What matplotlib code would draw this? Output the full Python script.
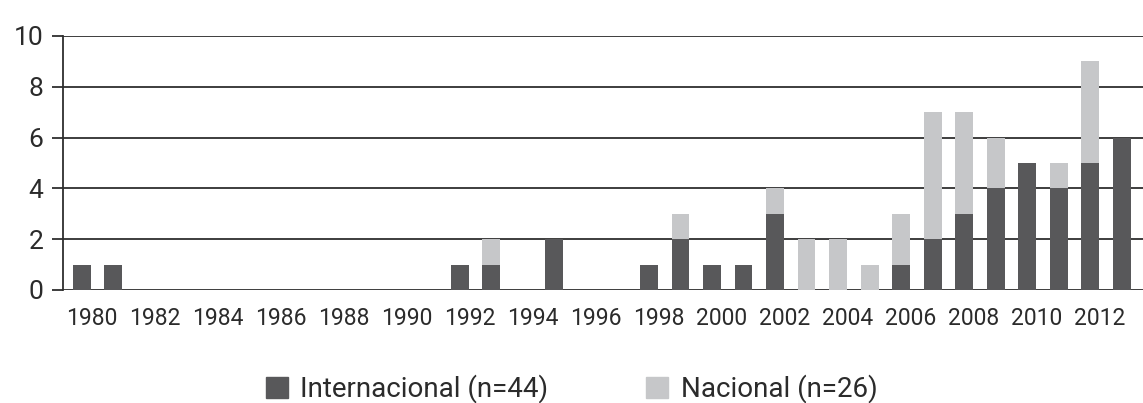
import numpy as np
import matplotlib
matplotlib.use("Agg")
import matplotlib.pyplot as plt
from matplotlib.patches import Patch

plt.rcParams["font.family"] = ["Roboto", "DejaVu Sans"]

years = list(range(1980, 2014))
internacional = [1, 1, 0, 0, 0, 0, 0, 0, 0, 0, 0, 0, 1, 1, 0, 2, 0, 0, 1, 2,
                 1, 1, 3, 0, 0, 0, 1, 2, 3, 4, 5, 4, 5, 6]
nacional = [0, 0, 0, 0, 0, 0, 0, 0, 0, 0, 0, 0, 0, 1, 0, 0, 0, 0, 0, 1,
            0, 0, 1, 2, 2, 1, 2, 5, 4, 2, 0, 1, 4, 0]
tick_years = list(range(1980, 2013, 2))
yticks = [0, 2, 4, 6, 8, 10]

DARK, LIGHT, GRID = "#58585a", "#c6c7c9", "#2e2e2e"

fig = plt.figure(figsize=(11.43, 4.03), dpi=100)
ax = fig.add_axes([0.0551, 0.2804, 0.9449, 0.6303])

x = np.array(years)
ax.bar(x, internacional, width=0.57, color=DARK, zorder=3)
ax.bar(x, nacional, width=0.57, bottom=internacional, color=LIGHT, zorder=3)

ax.set_xlim(1979.4, 2013.68)
ax.set_ylim(0, 10)
ax.set_yticks(yticks)
ax.yaxis.grid(True, color=GRID, lw=1.3, zorder=1)
ax.tick_params(axis="y", length=8, width=1.3, color=GRID, pad=6, labelsize=19,
               labelcolor="#2b2b2b")
ax.set_xticks(np.array(tick_years) + 0.3)
ax.set_xticklabels([str(t) for t in tick_years])
ax.tick_params(axis="x", length=0, pad=12, labelsize=16.5, labelcolor="#2b2b2b")

for s in ["top", "right", "bottom"]:
    ax.spines[s].set_visible(False)
ax.spines["left"].set_color(GRID)
ax.spines["left"].set_linewidth(1.3)
ax.spines["left"].set_zorder(4)

handles = [Patch(color=DARK, label="Internacional (n=44)"),
           Patch(color=LIGHT, label="Nacional (n=26)")]
fig.legend(handles=handles, loc="center", bbox_to_anchor=(0.5, 0.035), ncol=2,
           frameon=False, fontsize=20, handlelength=0.8, handleheight=0.8,
           handletextpad=0.45, columnspacing=3.5, labelcolor="#2b2b2b")

fig.savefig("out.png", dpi=100)
